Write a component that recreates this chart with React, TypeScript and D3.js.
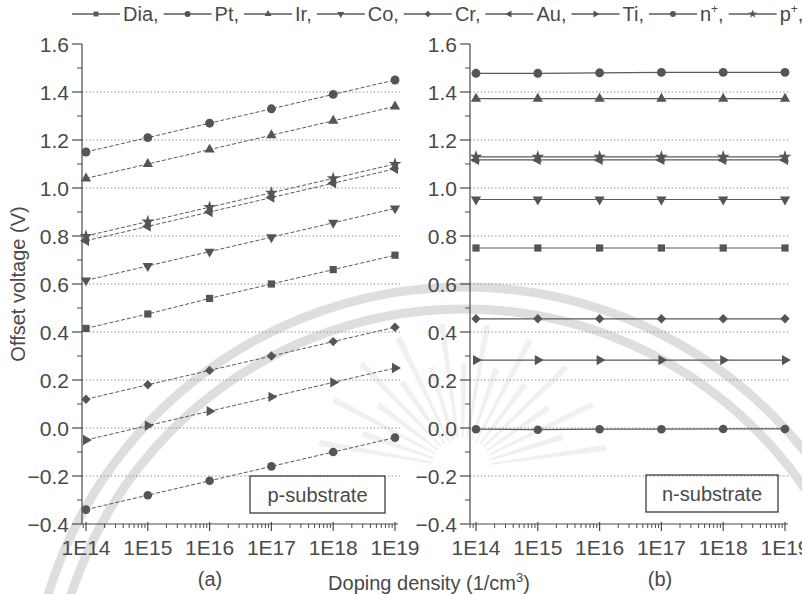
import React, { useEffect, useRef } from "react";
import * as d3 from "d3";

const WIDTH = 802;
const HEIGHT = 594;

// Doping densities on the shared x axis (1/cm^3)
const dopingDensity = [1e14, 1e15, 1e16, 1e17, 1e18, 1e19];
const xTickLabels = ["1E14", "1E15", "1E16", "1E17", "1E18", "1E19"];
const yTickValues = [-0.4, -0.2, 0.0, 0.2, 0.4, 0.6, 0.8, 1.0, 1.2, 1.4, 1.6];
const gridValues = [-0.2, 0.0, 0.2, 0.4, 0.6, 0.8, 1.0, 1.2, 1.4];

// Series keys, legend text and superscripts
const seriesKeys = ["Dia", "Pt", "Ir", "Co", "Cr", "Au", "Ti", "n", "p"];
const legendText = ["Dia", "Pt", "Ir", "Co", "Cr", "Au", "Ti", "n", "p"];
const legendSup = ["", "", "", "", "", "", "", "+", "+"];

// (a) p-substrate offset voltage (V)
const pDia = [0.415, 0.475, 0.54, 0.6, 0.66, 0.72];
const pPt = [1.15, 1.21, 1.27, 1.33, 1.39, 1.45];
const pIr = [1.04, 1.1, 1.16, 1.22, 1.28, 1.34];
const pCo = [0.615, 0.675, 0.735, 0.795, 0.855, 0.915];
const pCr = [0.12, 0.18, 0.24, 0.3, 0.36, 0.42];
const pAu = [0.78, 0.84, 0.9, 0.96, 1.02, 1.08];
const pTi = [-0.05, 0.01, 0.07, 0.13, 0.19, 0.25];
const pNplus = [-0.34, -0.28, -0.22, -0.16, -0.1, -0.04];
const pPplus = [0.8, 0.86, 0.92, 0.98, 1.04, 1.1];

// (b) n-substrate offset voltage (V)
const nDia = [0.75, 0.75, 0.75, 0.75, 0.75, 0.75];
const nPt = [1.478, 1.478, 1.48, 1.482, 1.482, 1.482];
const nIr = [1.372, 1.372, 1.372, 1.372, 1.372, 1.372];
const nCo = [0.952, 0.952, 0.952, 0.952, 0.952, 0.952];
const nCr = [0.455, 0.455, 0.455, 0.455, 0.455, 0.455];
const nAu = [1.117, 1.117, 1.117, 1.117, 1.117, 1.117];
const nTi = [0.283, 0.283, 0.283, 0.283, 0.283, 0.283];
const nNplus = [-0.005, -0.007, -0.005, -0.005, -0.004, -0.004];
const nPplus = [1.13, 1.13, 1.13, 1.13, 1.13, 1.13];

const pSubstrate = [pDia, pPt, pIr, pCo, pCr, pAu, pTi, pNplus, pPplus];
const nSubstrate = [nDia, nPt, nIr, nCo, nCr, nAu, nTi, nNplus, nPplus];

const FONT = "'Liberation Sans', Arial, Helvetica, sans-serif";
const INK = "#4a4a4a";
const LINE = "#5a5a5a";
const MARK = "#555555";

type MarkerSpec = { type: d3.SymbolType; rotate: number; size: number };
const markerFor: Record<string, MarkerSpec> = {
  Dia: { type: d3.symbolSquare, rotate: 0, size: 52 },
  Pt: { type: d3.symbolCircle, rotate: 0, size: 62 },
  Ir: { type: d3.symbolTriangle, rotate: 0, size: 46 },
  Co: { type: d3.symbolTriangle, rotate: 180, size: 46 },
  Cr: { type: d3.symbolSquare, rotate: 45, size: 44 },
  Au: { type: d3.symbolTriangle, rotate: -90, size: 46 },
  Ti: { type: d3.symbolTriangle, rotate: 90, size: 46 },
  n: { type: d3.symbolCircle, rotate: 0, size: 58 },
  p: { type: d3.symbolStar, rotate: 0, size: 52 },
};

type Panel = {
  axisX: number;
  firstX: number;
  lastX: number;
  endX: number;
  values: number[][];
  dashed: boolean;
  box: { x: number; y: number; w: number; h: number; label: string };
  tag: string;
  tagX: number;
};

const panels: Panel[] = [
  {
    axisX: 82,
    firstX: 86,
    lastX: 395,
    endX: 398,
    values: pSubstrate,
    dashed: true,
    box: { x: 250, y: 476, w: 135, h: 37, label: "p-substrate" },
    tag: "(a)",
    tagX: 210,
  },
  {
    axisX: 470,
    firstX: 476,
    lastX: 785,
    endX: 788,
    values: nSubstrate,
    dashed: false,
    box: { x: 646, y: 475, w: 132, h: 37, label: "n-substrate" },
    tag: "(b)",
    tagX: 660,
  },
];

export default function App() {
  const ref = useRef<SVGSVGElement>(null);

  useEffect(() => {
    const svg = d3.select(ref.current!);
    svg.selectAll("*").remove();

    svg.append("rect").attr("width", WIDTH).attr("height", HEIGHT).attr("fill", "#ffffff");

    // faint seal emblem in the background
    const seal = svg.append("g").attr("fill", "none").attr("stroke", "#dedede");
    seal.append("circle").attr("cx", 464).attr("cy", 722).attr("r", 435).attr("stroke-width", 9);
    seal.append("circle").attr("cx", 464).attr("cy", 722).attr("r", 413).attr("stroke-width", 9);
    const sunX = 462;
    const sunY = 468;
    const rays = d3.range(190, 355, 9);
    seal
      .selectAll("path.ray")
      .data(rays)
      .join("path")
      .attr("class", "ray")
      .attr("stroke", "none")
      .attr("fill", "#f0f0f0")
      .attr("d", (deg, i) => {
        const a = (deg * Math.PI) / 180;
        const r0 = 30;
        const r1 = i % 2 === 0 ? 145 : 105;
        const w0 = 1;
        const w1 = 3;
        const cx = Math.cos(a);
        const sy = Math.sin(a);
        const nx = -sy;
        const ny = cx;
        const p = [
          [sunX + cx * r0 + nx * w0, sunY + sy * r0 + ny * w0],
          [sunX + cx * r1 + nx * w1, sunY + sy * r1 + ny * w1],
          [sunX + cx * r1 - nx * w1, sunY + sy * r1 - ny * w1],
          [sunX + cx * r0 - nx * w0, sunY + sy * r0 - ny * w0],
        ];
        return "M" + p.map((q) => q.join(",")).join("L") + "Z";
      });

    const y = d3.scaleLinear().domain([-0.4, 1.6]).range([524, 44]);
    const yFmt = (v: number) => {
      const s = Math.abs(v).toFixed(1);
      return v < -1e-9 ? "\u2212" + s : s;
    };

    panels.forEach((panel) => {
      const x = d3.scaleLog().domain([1e14, 1e19]).range([panel.firstX, panel.lastX]);
      const g = svg.append("g");

      // dotted horizontal grid
      g.selectAll("line.grid")
        .data(gridValues)
        .join("line")
        .attr("x1", panel.axisX)
        .attr("x2", panel.endX + 2)
        .attr("y1", (d) => y(d))
        .attr("y2", (d) => y(d))
        .attr("stroke", "#8c8c8c")
        .attr("stroke-width", 1)
        .attr("stroke-dasharray", "1.4,2.2");

      // y axis
      g.append("line")
        .attr("x1", panel.axisX)
        .attr("x2", panel.axisX)
        .attr("y1", y(1.6))
        .attr("y2", y(-0.4))
        .attr("stroke", INK)
        .attr("stroke-width", 1.2);
      g.selectAll("line.ymajor")
        .data(yTickValues)
        .join("line")
        .attr("x1", panel.axisX - 10)
        .attr("x2", panel.axisX)
        .attr("y1", (d) => y(d))
        .attr("y2", (d) => y(d))
        .attr("stroke", INK)
        .attr("stroke-width", 1.2);
      g.selectAll("line.yminor")
        .data(d3.range(-0.3, 1.6, 0.2))
        .join("line")
        .attr("x1", panel.axisX - 5)
        .attr("x2", panel.axisX)
        .attr("y1", (d) => y(d))
        .attr("y2", (d) => y(d))
        .attr("stroke", INK)
        .attr("stroke-width", 1);
      g.selectAll("text.ylab")
        .data(yTickValues)
        .join("text")
        .attr("x", panel.axisX - 13)
        .attr("y", (d) => y(d) + 7.5)
        .attr("text-anchor", "end")
        .attr("font-family", FONT)
        .attr("font-size", 21)
        .attr("fill", INK)
        .text(yFmt);

      // x axis with logarithmic minor ticks
      const baseY = y(-0.4);
      g.append("line")
        .attr("x1", panel.axisX)
        .attr("x2", panel.endX)
        .attr("y1", baseY)
        .attr("y2", baseY)
        .attr("stroke", INK)
        .attr("stroke-width", 1.2);
      const minor: number[] = [];
      for (let e = 13; e <= 18; e++) {
        for (let m = 2; m <= 9; m++) {
          const v = m * Math.pow(10, e);
          const px = x(v);
          if (px >= panel.axisX && px <= panel.endX) minor.push(v);
        }
      }
      g.selectAll("line.xminor")
        .data(minor)
        .join("line")
        .attr("x1", (d) => x(d))
        .attr("x2", (d) => x(d))
        .attr("y1", baseY)
        .attr("y2", baseY + 4)
        .attr("stroke", INK)
        .attr("stroke-width", 1);
      g.selectAll("line.xmajor")
        .data(dopingDensity)
        .join("line")
        .attr("x1", (d) => x(d))
        .attr("x2", (d) => x(d))
        .attr("y1", baseY - 2)
        .attr("y2", baseY + 7)
        .attr("stroke", INK)
        .attr("stroke-width", 1.2);
      g.selectAll("text.xlab")
        .data(dopingDensity)
        .join("text")
        .attr("x", (d) => x(d))
        .attr("y", 555)
        .attr("text-anchor", "middle")
        .attr("font-family", FONT)
        .attr("font-size", 21)
        .attr("fill", INK)
        .text((_, i) => xTickLabels[i]);

      // series lines
      const line = d3
        .line<number>()
        .x((_, i) => x(dopingDensity[i]))
        .y((d) => y(d));
      g.selectAll("path.series")
        .data(panel.values)
        .join("path")
        .attr("d", (d) => line(d))
        .attr("fill", "none")
        .attr("stroke", LINE)
        .attr("stroke-width", panel.dashed ? 1 : 1.2)
        .attr("stroke-dasharray", panel.dashed ? "4,2" : null);

      // markers
      panel.values.forEach((vals, si) => {
        const spec = markerFor[seriesKeys[si]];
        const path = d3.symbol().type(spec.type).size(spec.size)()!;
        g.selectAll(null)
          .data(vals)
          .join("path")
          .attr("d", path)
          .attr("fill", MARK)
          .attr(
            "transform",
            (d, i) => `translate(${x(dopingDensity[i])},${y(d)}) rotate(${spec.rotate})`
          );
      });

      // substrate label box
      g.append("rect")
        .attr("x", panel.box.x)
        .attr("y", panel.box.y)
        .attr("width", panel.box.w)
        .attr("height", panel.box.h)
        .attr("fill", "none")
        .attr("stroke", "#3c3c3c")
        .attr("stroke-width", 1.3);
      g.append("text")
        .attr("x", panel.box.x + panel.box.w / 2)
        .attr("y", panel.box.y + panel.box.h / 2 + 7)
        .attr("text-anchor", "middle")
        .attr("font-family", FONT)
        .attr("font-size", 20)
        .attr("fill", INK)
        .text(panel.box.label);

      g.append("text")
        .attr("x", panel.tagX)
        .attr("y", 586)
        .attr("text-anchor", "middle")
        .attr("font-family", FONT)
        .attr("font-size", 20)
        .attr("fill", INK)
        .text(panel.tag);
    });

    // axis titles
    svg
      .append("text")
      .attr("x", 429)
      .attr("y", 590)
      .attr("text-anchor", "middle")
      .attr("font-family", FONT)
      .attr("font-size", 20)
      .attr("fill", INK)
      .call((t) => {
        t.append("tspan").text("Doping density (1/cm");
        t.append("tspan").attr("font-size", 13).attr("dy", -8).text("3");
        t.append("tspan").attr("dy", 8).text(")");
      });
    svg
      .append("text")
      .attr("transform", "translate(25,284) rotate(-90)")
      .attr("text-anchor", "middle")
      .attr("font-family", FONT)
      .attr("font-size", 20)
      .attr("fill", INK)
      .text("Offset voltage (V)");

    // legend row
    const legend = svg.append("g");
    let cursor = 72;
    const legendY = 14;
    seriesKeys.forEach((key, i) => {
      const item = legend.append("g");
      item
        .append("line")
        .attr("x1", cursor)
        .attr("x2", cursor + 48)
        .attr("y1", legendY)
        .attr("y2", legendY)
        .attr("stroke", LINE)
        .attr("stroke-width", 1.3);
      const spec = markerFor[key];
      item
        .append("path")
        .attr("d", d3.symbol().type(spec.type).size(spec.size * 0.45)()!)
        .attr("fill", MARK)
        .attr("transform", `translate(${cursor + 24},${legendY}) rotate(${spec.rotate})`);
      const txt = item
        .append("text")
        .attr("x", cursor + 51)
        .attr("y", legendY + 7)
        .attr("font-family", FONT)
        .attr("font-size", 20)
        .attr("fill", INK);
      txt.append("tspan").text(legendText[i]);
      if (legendSup[i]) {
        txt.append("tspan").attr("font-size", 12).attr("dy", -8).text(legendSup[i]);
        txt.append("tspan").attr("dy", 8).text(",");
      } else {
        txt.append("tspan").text(",");
      }
      const w = (txt.node() as SVGTextElement).getComputedTextLength();
      cursor = cursor + 51 + w + 5;
    });
  }, []);

  return (
    <svg
      ref={ref}
      width={WIDTH}
      height={HEIGHT}
      style={{ position: "absolute", left: 0, top: 0, display: "block" }}
    />
  );
}
